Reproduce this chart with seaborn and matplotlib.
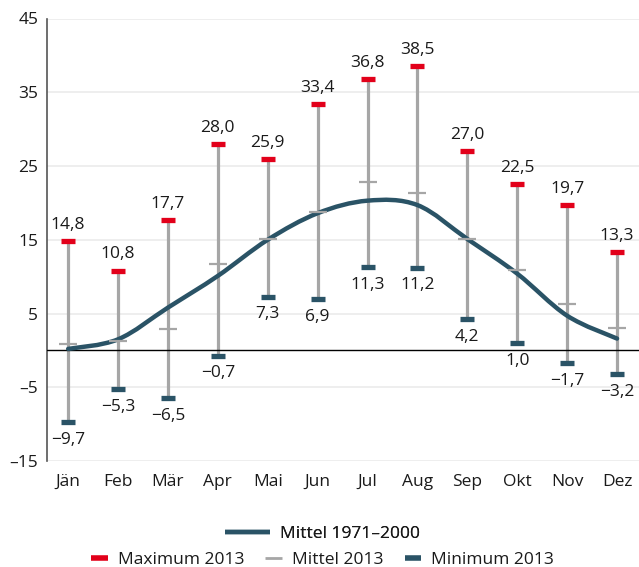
import matplotlib
matplotlib.use("Agg")
import matplotlib.pyplot as plt
from matplotlib.path import Path
from matplotlib.patches import PathPatch
from matplotlib.lines import Line2D
import numpy as np
import pandas as pd
import seaborn as sns

months = ["Jän", "Feb", "Mär", "Apr", "Mai", "Jun", "Jul", "Aug", "Sep", "Okt", "Nov", "Dez"]
max_2013 = [14.8, 10.8, 17.7, 28.0, 25.9, 33.4, 36.8, 38.5, 27.0, 22.5, 19.7, 13.3]
min_2013 = [-9.7, -5.3, -6.5, -0.7, 7.3, 6.9, 11.3, 11.2, 4.2, 1.0, -1.7, -3.2]
mean_2013 = [0.8, 1.3, 2.9, 11.7, 15.1, 18.7, 22.8, 21.3, 15.1, 10.9, 6.3, 3.1]
mean_1971_2000 = [0.2, 1.5, 5.8, 10.1, 15.0, 18.6, 20.3, 19.7, 15.1, 10.4, 4.7, 1.6]
y_ticks = [-15, -5, 5, 15, 25, 35, 45]

RED = "#e2001a"
TEAL = "#2a5366"
GRAY = "#a6a6a6"

sns.set_theme(style="white")
plt.rcParams["font.family"] = ["Open Sans", "DejaVu Sans"]

df = pd.DataFrame({"month": months, "x": np.arange(len(months)),
                   "max": max_2013, "min": min_2013, "mean": mean_2013,
                   "clim": mean_1971_2000})

fig = plt.figure(figsize=(6.39, 5.67), dpi=100)
ax = fig.add_axes([46.7 / 639, 1 - 461 / 567, 1 - 46.7 / 639, (461 - 18.5) / 567])

ax.set_xlim(-0.43, 11.44)
ax.set_ylim(-15, 45)
for yt in y_ticks:
    ax.axhline(yt, color="#ebebeb", lw=1.2, zorder=0)

# vertical range bars
ax.vlines(df["x"], df["min"], df["max"], color=GRAY, lw=2.3, zorder=2)
ax.axhline(0, color="black", lw=1, zorder=3)

# smooth climate line (Catmull-Rom -> Bezier through data points)
xs = df["x"].to_numpy(float)
ys = df["clim"].to_numpy(float)
pts = np.column_stack([xs, ys])
verts = [pts[0]]
codes = [Path.MOVETO]
n = len(pts)
for i in range(n - 1):
    p0 = pts[i - 1] if i > 0 else pts[i]
    p1 = pts[i]
    p2 = pts[i + 1]
    p3 = pts[i + 2] if i + 2 < n else pts[i + 1]
    c1 = p1 + (p2 - p0) / 6.0
    c2 = p2 - (p3 - p1) / 6.0
    verts += [c1, c2, p2]
    codes += [Path.CURVE4] * 3
ax.add_patch(PathPatch(Path(verts, codes), fill=False, edgecolor=TEAL, lw=3.2,
                       capstyle="round", joinstyle="round", zorder=4))

sns.scatterplot(data=df, x="x", y="mean", marker="_", s=150, linewidth=1.6,
                color=GRAY, ax=ax, zorder=5, legend=False)
sns.scatterplot(data=df, x="x", y="max", marker="_", s=105, linewidth=3.8,
                color=RED, ax=ax, zorder=6, legend=False)
sns.scatterplot(data=df, x="x", y="min", marker="_", s=105, linewidth=3.8,
                color=TEAL, ax=ax, zorder=6, legend=False)

def fmt(v):
    s = f"{abs(v):.1f}".replace(".", ",")
    return ("\u2212" + s) if v < 0 else s

TXT = "#1a1a1a"
for xi, vmax, vmin in zip(df["x"], df["max"], df["min"]):
    ax.annotate(fmt(vmax), (xi, vmax), xytext=(0, 6), textcoords="offset points",
                ha="center", va="bottom", fontsize=12.5, color=TXT)
    ax.annotate(fmt(vmin), (xi, vmin), xytext=(0, -7), textcoords="offset points",
                ha="center", va="top", fontsize=12.5, color=TXT)

ax.set_xticks(df["x"])
ax.set_xticklabels(months)
ax.set_yticks(y_ticks)
ax.set_yticklabels([("\u2013" + str(abs(t))) if t < 0 else str(t) for t in y_ticks])
ax.tick_params(axis="both", labelsize=12.5, length=0, colors=TXT)
ax.tick_params(axis="x", pad=9)
ax.tick_params(axis="y", pad=6)
ax.set_xlabel("")
ax.set_ylabel("")
for side in ["top", "right", "bottom"]:
    ax.spines[side].set_visible(False)
ax.spines["left"].set_color("#555555")
ax.spines["left"].set_linewidth(1.2)

h1 = [Line2D([], [], color=TEAL, lw=3.2, solid_capstyle="butt")]
leg1 = fig.legend(h1, ["Mittel 1971\u20132000"], loc="center", bbox_to_anchor=(0.505, 1 - 534 / 567),
                  frameon=False, fontsize=12.5, handlelength=2.6, handletextpad=0.6)
for t in leg1.get_texts():
    t.set_color(TXT)
h2 = [Line2D([], [], color=RED, lw=4, solid_capstyle="butt"),
      Line2D([], [], color=GRAY, lw=2, solid_capstyle="butt"),
      Line2D([], [], color=TEAL, lw=4, solid_capstyle="butt")]
leg2 = fig.legend(h2, ["Maximum 2013", "Mittel 2013", "Minimum 2013"], loc="center",
                  bbox_to_anchor=(0.505, 1 - 560 / 567), ncol=3, frameon=False, fontsize=12.5,
                  handlelength=0.95, handletextpad=0.6, columnspacing=1.2)
for t in leg2.get_texts():
    t.set_color(TXT)
fig.add_artist(leg1)

fig.savefig("out.png", dpi=100)
